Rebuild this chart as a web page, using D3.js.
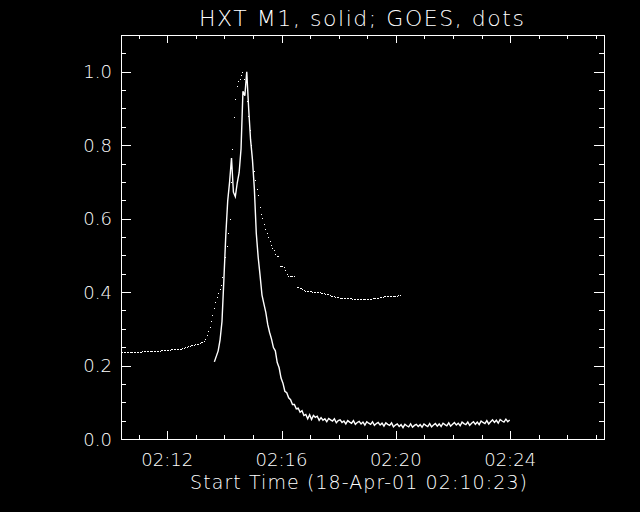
<!DOCTYPE html>
<html>
<head>
<meta charset="utf-8">
<script src="https://cdn.jsdelivr.net/npm/d3@7"></script>
<style>
  body { margin: 0; background: #000; }
  svg { display: block; }
  text { font-family: "DejaVu Sans", sans-serif; font-weight: 200; fill: #fff; }
</style>
</head>
<body>
<svg id="chart" width="640" height="512"></svg>
<script>
// time axis is seconds after start time 02:10:23
var startLabel = "Start Time (18-Apr-01 02:10:23)";
var titleText = "HXT M1, solid; GOES, dots";
var xMax = 1014;
var majorTimes = [97, 337, 577, 817];
var majorLabels = ["02:12", "02:16", "02:20", "02:24"];
var minorTimes = [37, 157, 217, 277, 397, 457, 517, 637, 697, 757, 877, 937, 997];
var yMajor = [0.0, 0.2, 0.4, 0.6, 0.8, 1.0];
var yMinor = [0.05, 0.1, 0.15, 0.25, 0.3, 0.35, 0.45, 0.5, 0.55, 0.65, 0.7, 0.75, 0.85, 0.9, 0.95, 1.05];

// GOES, 3 s cadence from start
var goesStart = 0, goesStep = 3;
var goesValues = [
  0.236,0.236,0.236,0.236,0.236,0.236,0.236,0.236,0.236,0.236,0.236,0.236,0.236,0.236,0.236,
  0.239,0.239,0.239,0.239,0.239,0.239,0.239,0.239,0.239,0.239,0.239,0.239,0.239,
  0.242,0.242,0.242,0.242,0.243,0.243,0.243,0.244,0.244,0.244,0.245,0.245,0.245,0.245,
  0.246,0.247,0.249,0.250,0.251,0.253,0.254,
  0.255,0.256,0.257,0.258,0.259,0.260,0.262,
  0.263,0.264,0.266,0.272,0.283,0.293,0.305,0.320,0.338,0.356,
  0.372,0.386,0.398,0.408,0.418,0.440,0.465,0.495,0.525,0.560,
  0.600,0.700,0.790,0.877,0.925,0.962,0.975,0.979,0.990,1.000,
  0.980,0.955,0.920,0.880,0.840,0.800,0.765,0.730,0.705,0.682,
  0.665,0.632,0.613,0.601,0.585,0.572,0.562,0.550,0.540,0.527,
  0.520,0.514,0.503,0.497,0.497,0.472,0.472,0.472,0.468,0.461,
  0.448,0.444,0.444,0.444,0.444,0.444,null,
  0.414,0.413,0.412,0.410,0.408,0.406,0.404,0.403,
  0.403,0.402,0.402,0.401,0.401,0.400,0.400,
  0.399,0.399,0.398,0.397,0.397,0.396,0.395,0.394,
  0.391,0.390,0.389,0.388,0.387,0.386,0.386,
  0.385,0.385,0.385,0.384,0.384,0.384,0.383,0.383,0.383,0.382,0.382,0.382,0.382,
  0.381,0.381,0.381,0.380,0.380,0.380,0.380,
  0.381,0.382,0.382,0.383,0.383,0.384,0.385,0.385,
  0.386,0.387,0.387,0.388,0.388,0.389,0.389,0.389,
  0.389,0.389,0.390,0.390,0.390,0.391,0.391
];

// HXT M1, 4 s cadence from 196 s
var hxtStart = 196, hxtStep = 4;
var hxtValues = [
  0.210,0.225,0.240,0.270,0.320,0.435,0.555,0.648,0.700,0.765,
  0.672,0.660,0.697,0.725,0.790,0.947,0.935,1.000,0.900,0.815,
  0.760,0.680,0.560,0.495,0.445,0.392,0.368,0.345,0.312,0.290,
  0.272,0.249,0.240,0.208,0.194,0.166,0.152,0.130,0.126,0.112,
  0.107,0.094,0.094,0.082,0.084,0.073,0.077,0.064,0.067,0.055,
  0.066,0.053,0.064,0.059,0.062,0.051,
  0.058,0.051,0.055,0.047,0.056,0.052,0.049,0.055,0.044,0.050,
  0.052,0.045,0.049,0.041,0.050,0.046,0.043,0.050,0.040,0.045,
  0.048,0.041,0.046,0.038,0.047,0.043,0.040,0.047,0.037,0.042,
  0.045,0.038,0.043,0.035,0.044,0.040,0.037,0.044,0.033,0.038,
  0.041,0.034,0.039,0.031,0.040,0.036,0.033,0.041,0.032,0.037,
  0.040,0.034,0.039,0.032,0.041,0.037,0.034,0.042,0.033,0.038,
  0.042,0.035,0.041,0.034,0.043,0.039,0.036,0.044,0.035,0.040,
  0.045,0.038,0.043,0.036,0.046,0.042,0.039,0.046,0.037,0.043,
  0.047,0.040,0.046,0.039,0.049,0.045,0.042,0.050,0.041,0.047,
  0.052,0.045,0.051,0.043,0.053,0.049,0.046,0.054,0.047,0.052
];

var plotLeft = 121, plotRight = 604, plotTop = 35, plotBottom = 439;
var svg = d3.select("#chart");
svg.append("rect").attr("width", 640).attr("height", 512).attr("fill", "#000");

var x = d3.scaleLinear().domain([0, xMax]).range([plotLeft, plotRight]);
var y = d3.scaleLinear().domain([0, 1.1]).range([plotBottom, plotTop]);

function tickAxis(axis, vals, size) {
  return axis.tickValues(vals).tickSize(size).tickSizeOuter(0).tickFormat(function(){ return ""; });
}

// ticks point inward on all four sides
var axes = [
  [d3.axisBottom(x), majorTimes, -8, plotBottom, 0],
  [d3.axisBottom(x), minorTimes, -4, plotBottom, 0],
  [d3.axisTop(x), majorTimes, -8, plotTop, 0],
  [d3.axisTop(x), minorTimes, -4, plotTop, 0],
  [d3.axisLeft(y), yMajor, -10, 0, plotLeft],
  [d3.axisLeft(y), yMinor, -5, 0, plotLeft],
  [d3.axisRight(y), yMajor, -10, 0, plotRight],
  [d3.axisRight(y), yMinor, -5, 0, plotRight]
];
axes.forEach(function(a){
  var g = svg.append("g")
    .attr("transform", "translate(" + a[4] + "," + a[3] + ")")
    .call(tickAxis(a[0], a[1], a[2]));
  g.select(".domain").remove();
  g.selectAll("line").attr("stroke", "#fff").attr("shape-rendering", "crispEdges");
  g.selectAll("text").remove();
});

svg.append("rect")
  .attr("x", plotLeft).attr("y", plotTop)
  .attr("width", plotRight - plotLeft).attr("height", plotBottom - plotTop)
  .attr("fill", "none").attr("stroke", "#fff").attr("stroke-width", 1)
  .attr("shape-rendering", "crispEdges");

// tick labels
svg.selectAll(".xlab").data(majorTimes).enter().append("text")
  .attr("class", "xlab")
  .attr("x", function(d){ return x(d); })
  .attr("y", 466)
  .attr("font-size", "18px")
  .attr("text-anchor", "middle")
  .text(function(d, i){ return majorLabels[i]; });

svg.selectAll(".ylab").data(yMajor).enter().append("text")
  .attr("class", "ylab")
  .attr("x", 112)
  .attr("y", function(d){ return y(d) + 6.5; })
  .attr("font-size", "18px")
  .attr("text-anchor", "end")
  .text(function(d){ return d.toFixed(1); });

svg.append("text")
  .attr("x", 190).attr("y", 489)
  .attr("font-size", "19px")
  .attr("textLength", 337).attr("lengthAdjust", "spacing")
  .text(startLabel);

svg.append("text")
  .attr("x", 199).attr("y", 26)
  .attr("font-size", "22px")
  .attr("textLength", 325).attr("lengthAdjust", "spacing")
  .text(titleText);

// GOES dots
var goes = goesValues.map(function(v, i){ return {t: goesStart + i * goesStep, v: v}; })
  .filter(function(d){ return d.v !== null; });
svg.selectAll(".goes").data(goes).enter().append("rect")
  .attr("class", "goes")
  .attr("x", function(d){ return Math.round(x(d.t)); })
  .attr("y", function(d){ return Math.round(y(d.v)); })
  .attr("width", 1).attr("height", 1)
  .attr("fill", "#fff")
  .attr("shape-rendering", "crispEdges");

// HXT line
var hxt = hxtValues.map(function(v, i){ return {t: hxtStart + i * hxtStep, v: v}; });
var line = d3.line().x(function(d){ return x(d.t); }).y(function(d){ return y(d.v); });
svg.append("path")
  .datum(hxt)
  .attr("d", line)
  .attr("fill", "none")
  .attr("stroke", "#fff")
  .attr("stroke-width", 1.4);
</script>
</body>
</html>
